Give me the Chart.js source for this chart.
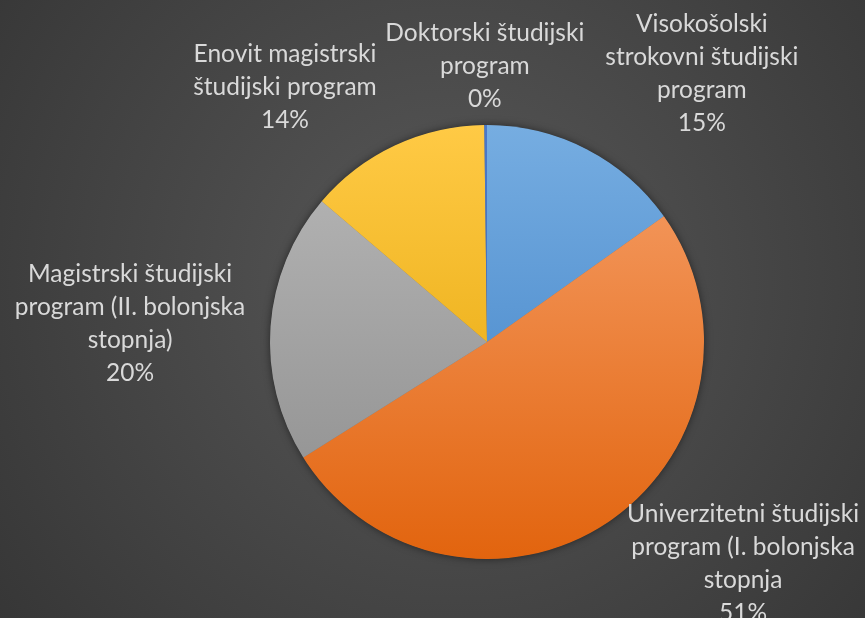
<!DOCTYPE html>
<html>
<head>
<meta charset="utf-8">
<script src="https://cdn.jsdelivr.net/npm/chart.js@4/dist/chart.umd.min.js"></script>
<style>
html,body{margin:0;padding:0;background:#444;}
#wrap{width:865px;height:618px;position:relative;}
</style>
</head>
<body>
<div id="wrap"><canvas id="c" width="865" height="618"></canvas></div>
<script>
// Categories (clockwise from 12 o'clock)
const categories = [
  ["Visokošolski", "strokovni študijski", "program"],
  ["Univerzitetni študijski", "program (I. bolonjska", "stopnja"],
  ["Magistrski študijski", "program (II. bolonjska", "stopnja)"],
  ["Enovit magistrski", "študijski program"],
  ["Doktorski študijski", "program"]
];
// Series values (shares)
const values = [15.2, 51.0, 20.2, 13.6, 0.2];
// Slice colours: [top, bottom] of each gradient
const gradTop = ["#76ade1", "#f6a06a", "#b8b8b8", "#ffca45", "#4a78c8"];
const gradBottom = ["#3a7dc4", "#e2640e", "#8c8c8c", "#e0a000", "#3f6bb8"];
// Label anchors in units of pie radius from the pie centre
const labelDX = [0.99, 1.18, -1.645, -0.931, -0.01];
const labelDY = [-1.237, 1.023, -0.085, -1.175, -1.27];

const total = values.reduce((a, b) => a + b, 0);

const bgPlugin = {
  id: 'bg',
  beforeDraw(chart) {
    const ctx = chart.ctx;
    const w = chart.width, h = chart.height;
    ctx.save();
    const g = ctx.createRadialGradient(450, 280, 20, 450, 280, 620);
    g.addColorStop(0, '#575757');
    g.addColorStop(1, '#333333');
    ctx.fillStyle = g;
    ctx.fillRect(0, 0, w, h);
    ctx.restore();
  },
  beforeDatasetsDraw(chart) {
    const arc = chart.getDatasetMeta(0).data[0];
    if (!arc) return;
    const ctx = chart.ctx;
    ctx.save();
    ctx.shadowColor = 'rgba(0,0,0,0.55)';
    ctx.shadowBlur = 9;
    ctx.fillStyle = '#777';
    ctx.beginPath();
    ctx.arc(arc.x, arc.y, arc.outerRadius - 0.5, 0, Math.PI * 2);
    ctx.fill();
    ctx.restore();
  },
  afterDatasetsDraw(chart) {
    const meta = chart.getDatasetMeta(0);
    const ctx = chart.ctx;
    ctx.save();
    ctx.fillStyle = '#d9d9d9';
    ctx.font = '24.5px Lato, "Open Sans", sans-serif';
    ctx.textAlign = 'center';
    ctx.textBaseline = 'middle';
    const lh = 33;
    meta.data.forEach((a, i) => {
      const r = a.outerRadius;
      const cx = a.x + labelDX[i] * r;
      const cy = a.y + labelDY[i] * r;
      const lines = categories[i].slice();
      lines.push(Math.round(values[i] / total * 100) + '%');
      const y0 = cy - (lines.length - 1) * lh / 2;
      lines.forEach((t, k) => ctx.fillText(t, cx, y0 + k * lh));
    });
    ctx.restore();
  }
};

new Chart(document.getElementById('c'), {
  type: 'pie',
  data: {
    labels: categories.map(c => c.join(' ')),
    datasets: [{
      data: values,
      borderWidth: 0,
      backgroundColor: (ctx) => {
        const i = ctx.dataIndex;
        const area = ctx.chart.chartArea;
        if (!area) return gradTop[i];
        const g = ctx.chart.ctx.createLinearGradient(0, area.top, 0, area.bottom);
        g.addColorStop(0, gradTop[i]);
        g.addColorStop(1, gradBottom[i]);
        return g;
      }
    }]
  },
  options: {
    responsive: false,
    animation: false,
    layout: { padding: { top: 125, bottom: 59, left: 270, right: 161 } },
    plugins: { legend: { display: false }, tooltip: { enabled: false } }
  },
  plugins: [bgPlugin]
});
</script>
</body>
</html>
